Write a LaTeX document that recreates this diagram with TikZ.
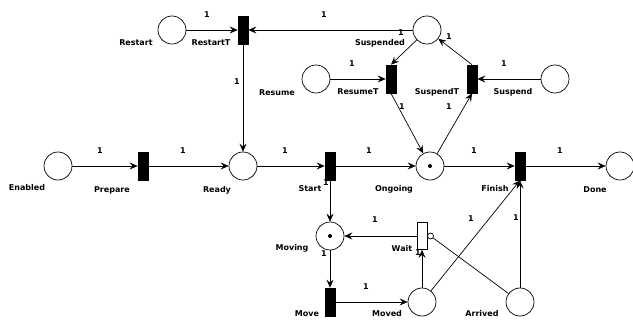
\documentclass[tikz,border=0pt]{standalone}
\usepackage{fontspec}
\setmainfont{DejaVu Sans}
\usetikzlibrary{arrows.meta}
\begin{document}
\begin{tikzpicture}[x=1pt,y=-1pt,
  place/.style={draw,circle,minimum size=28pt,inner sep=0pt,line width=0.7pt},
  trans/.style={draw,fill=black,minimum width=10pt,minimum height=28pt,inner sep=0pt,line width=0.7pt},
  blank/.style={trans,fill=white},
  token/.style={fill=black,circle,minimum size=4pt,inner sep=0pt},
  inhib/.style={draw,fill=white,circle,minimum size=6pt,inner sep=0pt,line width=0.7pt},
  lbl/.style={inner sep=0pt,font=\fontsize{8}{9}\selectfont\bfseries},
  weight/.style={lbl},
  arc/.style={line width=0.7pt,-{Stealth[length=8pt,width=7pt,inset=3pt]}},
  plain/.style={line width=0.7pt}]
\definecolor{fillColor}{RGB}{255,255,255}
\path[use as bounding box,fill=fillColor] (0,0) rectangle (633,321);

% places
\node[place] (restart) at (172,30) {};
\node[place] (suspended) at (427,30) {};
\node[place] (resume) at (316,79) {};
\node[place] (suspend) at (555,79) {};
\node[place] (enabled) at (58,166) {};
\node[place] (ready) at (243,166) {};
\node[place] (ongoing) at (430,166) {};
\node[place] (done) at (620,166) {};
\node[place] (moving) at (330,236) {};
\node[place] (moved) at (422,302) {};
\node[place] (arrived) at (520,302) {};
\node[token] (ongoingtok) at (ongoing) {};
\node[token] (movingtok) at (moving) {};

% transitions
\node[trans] (restartT) at (243,30) {};
\node[trans] (resumeT) at (391,79) {};
\node[trans] (suspendT) at (472,79) {};
\node[trans] (prepare) at (143,166) {};
\node[trans] (start) at (330,166) {};
\node[trans] (finish) at (520,166) {};
\node[trans] (move) at (330,302) {};
\node[blank,minimum height=27pt] (wait) at (422,236) {};
\node[inhib] (waitinh) at (430.5,236) {};

% names
\node[lbl] (restart-l) at (136,43) {Restart};
\node[lbl] (restartT-l) at (211,43) {RestartT};
\node[lbl] (suspended-l) at (380,43) {Suspended};
\node[lbl] (resume-l) at (277,93) {Resume};
\node[lbl] (resumeT-l) at (358,92) {ResumeT};
\node[lbl] (suspendT-l) at (437,92) {SuspendT};
\node[lbl] (suspend-l) at (513,92) {Suspend};
\node[lbl] (enabled-l) at (27,188) {Enabled};
\node[lbl] (prepare-l) at (112,190) {Prepare};
\node[lbl] (ready-l) at (217,190) {Ready};
\node[lbl] (start-l) at (310,189) {Start};
\node[lbl] (ongoing-l) at (394,189) {Ongoing};
\node[lbl] (finish-l) at (495,189) {Finish};
\node[lbl] (done-l) at (595,190) {Done};
\node[lbl] (moving-l) at (292,248) {Moving};
\node[lbl] (wait-l) at (402,249) {Wait};
\node[lbl] (move-l) at (307,314) {Move};
\node[lbl] (moved-l) at (387,314) {Moved};
\node[lbl] (arrived-l) at (482,314) {Arrived};

% arc weights
\foreach \x/\y [count=\i] in {207/15,324/15,237/82,401/33,449/37,352/64,504/64,
    402/107,449/107,100/151,183/151,285/151,369/151,474/151,560/151,
    326/183,375/220,324/254,366/287,418/253,471/219,516/218}
  \node[weight] (w\i) at (\x,\y) {1};

% arcs
\draw[arc] (restart) -- (restartT);
\draw[arc] (suspended) -- (restartT);
\draw[arc] (restartT) -- (ready);
\draw[arc] (suspended) -- (resumeT.north);
\draw[arc] (resume) -- (resumeT);
\draw[arc] (resumeT.south) -- (ongoing);
\draw[arc] (ongoing) -- (suspendT.south);
\draw[arc] (suspendT.north) -- (suspended);
\draw[arc] (suspend) -- (suspendT);
\draw[arc] (enabled) -- (prepare);
\draw[arc] (prepare) -- (ready);
\draw[arc] (ready) -- (start);
\draw[arc] (start) -- (ongoing);
\draw[arc] (ongoing) -- (finish);
\draw[arc] (finish) -- (done);
\draw[arc] (start) -- (moving);
\draw[arc] (moving) -- (move);
\draw[arc] (move) -- (moved);
\draw[arc] (moved) -- (wait);
\draw[arc] (wait) -- (moving);
\draw[arc] (moved) -- (finish.south);
\draw[arc] (arrived) -- (finish);
\draw[plain] (arrived) -- (waitinh);
\end{tikzpicture}
\end{document}
